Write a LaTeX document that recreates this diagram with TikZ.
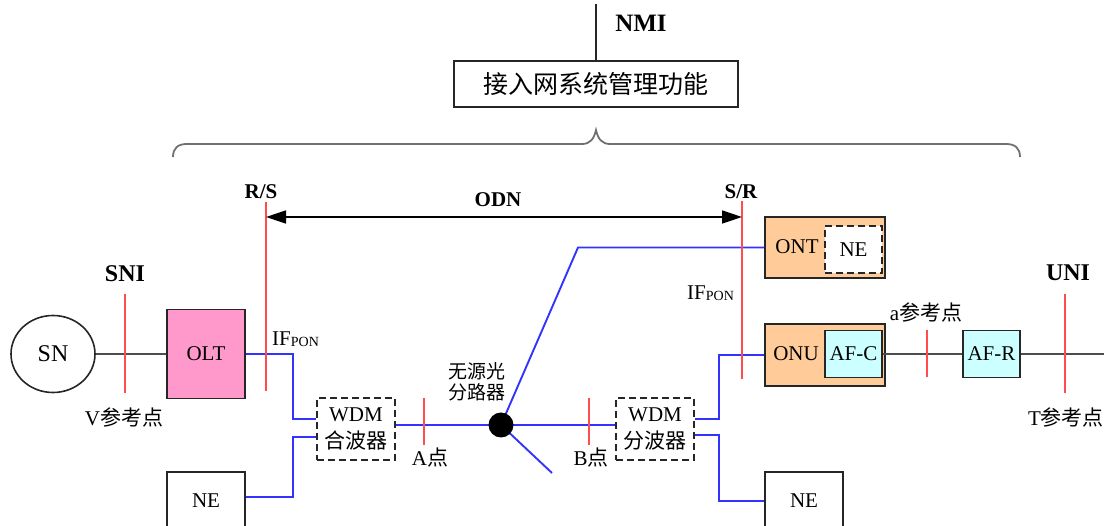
\documentclass[tikz,border=0pt]{standalone}
\usepackage{fontspec}
\setmainfont{Liberation Serif}
\newfontfamily\cjk{Noto Sans CJK SC}
\usetikzlibrary{shapes.geometric,arrows.meta,calc}
\definecolor{rl}{HTML}{FF4D4D}
\definecolor{bl}{HTML}{3333FF}
\definecolor{pinkf}{HTML}{FF99CC}
\definecolor{peach}{HTML}{FFCC99}
\definecolor{cyanf}{HTML}{CCFFFF}
\definecolor{gl}{HTML}{4D4D4D}
\definecolor{bracec}{HTML}{707070}
\begin{document}
\begin{tikzpicture}[x=1pt,y=-1pt,
  box/.style={draw=black!85, line width=1.6pt, inner sep=0pt, align=center, font=\fontsize{21}{27}\selectfont},
  dbox/.style={box, dash pattern=on 7pt off 4pt},
  redl/.style={draw=rl, line width=1.8pt},
  bluel/.style={draw=bl, line width=1.9pt},
  grayl/.style={draw=gl, line width=2pt},
  lab/.style={inner sep=0pt, font=\fontsize{21}{24}\selectfont},
  blab/.style={inner sep=0pt, font=\fontsize{21}{24}\selectfont\bfseries},
  bigb/.style={inner sep=0pt, font=\fontsize{24}{26}\selectfont\bfseries},
  cjklab/.style={inner sep=0pt, font=\fontsize{19}{21}\selectfont\cjk, align=center}
]
\useasboundingbox (0,0) rectangle (1104,526);

% top management
\node[box, minimum width=284pt, minimum height=46pt, font=\fontsize{25}{26}\selectfont\cjk] (mgmt) at (596,84) {接入网系统管理功能};
\coordinate (nmitop) at (596,4);
\draw[draw=black!85, line width=1.6pt] (nmitop) -- (mgmt.north);
\node[inner sep=0pt, font=\fontsize{25}{26}\selectfont\bfseries] (nmi) at (641,23) {NMI};

% brace
\draw[draw=bracec, line width=1.8pt] (173,157) .. controls (173,148) and (178,144) .. (187,144)
  -- (582,144) .. controls (590,144) and (594,139) .. (596,130)
  .. controls (598,139) and (602,144) .. (610,144)
  -- (1006,144) .. controls (1015,144) and (1020,148) .. (1020,157);

% labels
\node[blab] (rs) at (261,192) {R/S};
\node[blab] (sr) at (741,192) {S/R};
\node[blab] (odn) at (498,200) {ODN};
\node[bigb] (sni) at (125,274) {SNI};
\node[bigb] (uni) at (1068,273) {UNI};
\node[lab] (vref) at (124,417) {V{\cjk 参考点}};
\node[lab] (tref) at (1066,417) {T{\cjk 参考点}};
\node[lab] (aref) at (926,312) {a{\cjk 参考点}};
\node[lab] (apt) at (430,458) {A{\cjk 点}};
\node[lab] (bpt) at (591,458) {B{\cjk 点}};
\node[cjklab] (spllab) at (477,382) {无源光\\分路器};
\node[lab, anchor=base west] (ifl) at (272,346) {IF\raisebox{-1pt}{\fontsize{14}{14}\selectfont PON}};
\node[lab, anchor=base west] (ifr) at (687,300) {IF\raisebox{-1pt}{\fontsize{14}{14}\selectfont PON}};

% nodes
\node[ellipse, draw=black!85, line width=1.6pt, minimum width=84pt, minimum height=77pt, inner sep=0pt, font=\fontsize{24}{26}\selectfont] (sn) at (53,354) {SN};
\node[box, fill=pinkf, minimum width=78pt, minimum height=89pt] (olt) at (206,354) {OLT};
\node[box, minimum width=78pt, minimum height=58pt] (nel) at (206,501) {NE};
\node[dbox, minimum width=78pt, minimum height=62pt] (wdm1) at (356,429) {WDM\\{\cjk 合波器}};
\node[dbox, minimum width=78pt, minimum height=62pt] (wdm2) at (655,429) {WDM\\{\cjk 分波器}};
\node[box, fill=peach, minimum width=120pt, minimum height=61pt] (ont) at (825,247.5) {};
\node[inner sep=0pt, font=\fontsize{21}{24}\selectfont] (ontt) at (797,247) {ONT};
\node[dbox, fill=white, minimum width=57pt, minimum height=47pt] (nei) at (853.5,249.5) {NE};
\node[box, fill=peach, minimum width=120pt, minimum height=62pt] (onu) at (825,355) {};
\node[inner sep=0pt, font=\fontsize{21}{24}\selectfont] (onut) at (796,354) {ONU};
\node[box, fill=cyanf, minimum width=57pt, minimum height=47pt] (afc) at (853.5,354) {AF-C};
\node[box, fill=cyanf, minimum width=57pt, minimum height=47pt] (afr) at (991.5,354) {AF-R};
\node[box, minimum width=78pt, minimum height=58pt] (ner) at (804,501) {NE};

% gray connectors
\coordinate (rend) at (1104,354);
\draw[grayl] (sn) -- (olt);
\draw[grayl] (afc.east) -- (afr.west);
\draw[grayl] (afr.east) -- (rend);

% blue connectors
\coordinate (ontbend) at (578,247.5);
\coordinate (spltail) at (552,473);
\draw[bluel] (olt.east) -- ++(47,0) |- ($(wdm1.west)+(0,-10)$);
\draw[bluel] ($(nel.north east)+(0,26)$) -- ++(47,0) |- ($(wdm1.west)+(0,8)$);
\draw[bluel] (wdm1.east |- 0,425) -- (501,425) -- (wdm2.west |- 0,425);
\draw[bluel] (501,425) -- (ontbend) -- (ont.west);
\draw[bluel] (501,425) -- (spltail);
\draw[bluel] ($(wdm2.east)+(0,-10)$) -- ++(24,0) |- (onu.west);
\draw[bluel] ($(wdm2.east)+(0,6)$) -- ++(24,0) |- (ner.west);
\node[circle, fill=black, minimum size=25pt, inner sep=0pt] (spl) at (501,425) {};

% red reference lines
\draw[redl] (125,294) -- (125,393);
\draw[redl] (266,202) -- (266,391);
\draw[redl] (742,201) -- (742,379);
\draw[redl] (927,330) -- (927,377);
\draw[redl] (1065,294) -- (1065,393);
\draw[redl] (424,398) -- (424,445);
\draw[redl] (589,398) -- (589,445);

% ODN arrow
\coordinate (odnl) at (266,217);
\coordinate (odnr) at (742,217);
\draw[line width=1.6pt, {Triangle[length=20pt,width=13pt]}-{Triangle[length=20pt,width=13pt]}] (odnl) -- (odnr);
\end{tikzpicture}
\end{document}
